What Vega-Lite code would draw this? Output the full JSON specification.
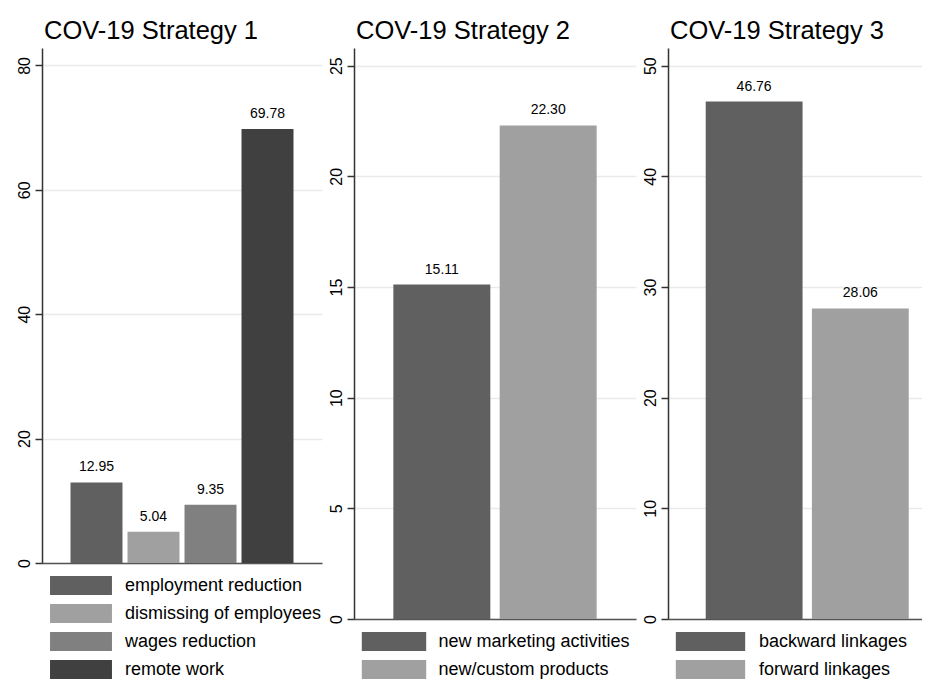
{
  "$schema": "https://vega.github.io/schema/vega-lite/v6.json",
  "padding": {"left": 16, "top": 18, "right": 0, "bottom": 0},
  "background": "white",
  "datasets": {
    "p1": [
      {"item": "employment reduction", "value": 12.95},
      {"item": "dismissing of employees", "value": 5.04},
      {"item": "wages reduction", "value": 9.35},
      {"item": "remote work", "value": 69.78}
    ],
    "p2": [
      {"item": "new marketing activities", "value": 15.11},
      {"item": "new/custom products", "value": 22.30}
    ],
    "p3": [
      {"item": "backward linkages", "value": 46.76},
      {"item": "forward linkages", "value": 28.06}
    ]
  },
  "spacing": 32,
  "bounds": "flush",
  "resolve": {"scale": {"x": "independent", "y": "independent", "color": "independent"}, "legend": {"color": "independent"}, "axis": {"x": "independent", "y": "independent"}},
  "hconcat": [
    {
      "data": {"name": "p1"},
      "width": 280,
      "height": 515,
      "title": {"text": "COV-19 Strategy 1"},
      "encoding": {
        "x": {"field": "item", "type": "nominal", "sort": null,
              "scale": {"paddingInner": 0.088, "paddingOuter": 0.5},
              "axis": {"labels": false, "ticks": false, "title": null, "domainColor": "#555555"}},
        "y": {"field": "value", "type": "quantitative",
              "scale": {"domain": [0, 82.8], "nice": false},
              "axis": {"values": [0, 20, 40, 60, 80], "title": null}}
      },
      "layer": [
        {"mark": {"type": "bar"},
         "encoding": {"color": {"field": "item", "type": "nominal", "sort": null,
           "scale": {"domain": ["employment reduction", "dismissing of employees", "wages reduction", "remote work"],
                     "range": ["#606060", "#a0a0a0", "#808080", "#404040"]},
           "legend": {"orient": "none", "legendX": 29.5, "legendY": 528, "title": null,
                      "symbolType": "M-3.26,-1H3.26V1H-3.26Z", "symbolSize": 361, "labelOffset": 34.5, "labelLimit": 200}}}},
        {"mark": {"type": "text", "dy": -11, "baseline": "alphabetic", "fontSize": 14},
         "encoding": {"text": {"field": "value", "type": "quantitative", "format": ".2f"}}}
      ]
    },
    {
      "data": {"name": "p2"},
      "width": 282,
      "height": 571,
      "title": {"text": "COV-19 Strategy 2"},
      "encoding": {
        "x": {"field": "item", "type": "nominal", "sort": null,
              "scale": {"paddingInner": 0.088, "paddingOuter": 0.37},
              "axis": {"labels": false, "ticks": false, "title": null, "domainColor": "#555555"}},
        "y": {"field": "value", "type": "quantitative",
              "scale": {"domain": [0, 25.8], "nice": false},
              "axis": {"values": [0, 5, 10, 15, 20, 25], "title": null}}
      },
      "layer": [
        {"mark": {"type": "bar"},
         "encoding": {"color": {"field": "item", "type": "nominal", "sort": null,
           "scale": {"domain": ["new marketing activities", "new/custom products"],
                     "range": ["#606060", "#a0a0a0"]},
           "legend": {"orient": "none", "legendX": 30.5, "legendY": 584, "title": null,
                      "symbolType": "M-3.39,-1H3.39V1H-3.39Z", "symbolSize": 361, "labelOffset": 35, "labelLimit": 196}}}},
        {"mark": {"type": "text", "dy": -11, "baseline": "alphabetic", "fontSize": 14},
         "encoding": {"text": {"field": "value", "type": "quantitative", "format": ".2f"}}}
      ]
    },
    {
      "data": {"name": "p3"},
      "width": 254,
      "height": 571,
      "title": {"text": "COV-19 Strategy 3"},
      "encoding": {
        "x": {"field": "item", "type": "nominal", "sort": null,
              "scale": {"paddingInner": 0.088, "paddingOuter": 0.24, "align": 0.74},
              "axis": {"labels": false, "ticks": false, "title": null, "domainColor": "#555555"}},
        "y": {"field": "value", "type": "quantitative",
              "scale": {"domain": [0, 51.6], "nice": false},
              "axis": {"values": [0, 10, 20, 30, 40, 50], "title": null}}
      },
      "layer": [
        {"mark": {"type": "bar"},
         "encoding": {"color": {"field": "item", "type": "nominal", "sort": null,
           "scale": {"domain": ["backward linkages", "forward linkages"],
                     "range": ["#606060", "#a0a0a0"]},
           "legend": {"orient": "none", "legendX": 33, "legendY": 584, "title": null,
                      "symbolType": "M-3.65,-1H3.65V1H-3.65Z", "symbolSize": 361, "labelOffset": 39, "labelLimit": 196}}}},
        {"mark": {"type": "text", "dy": -11, "baseline": "alphabetic", "fontSize": 14},
         "encoding": {"text": {"field": "value", "type": "quantitative", "format": ".2f"}}}
      ]
    }
  ],
  "config": {
    "font": "Liberation Sans",
    "view": {"stroke": null},
    "title": {"anchor": "start", "fontSize": 25.5, "fontWeight": "normal", "color": "#000000", "baseline": "alphabetic", "offset": 4, "dx": 28, "font": "Liberation Sans"},
    "axis": {"labelFont": "Liberation Sans", "labelFontSize": 16, "labelColor": "#000000", "domainColor": "#333333", "domainWidth": 1.5, "tickColor": "#333333", "tickWidth": 1.5, "gridColor": "#eaeaea", "gridWidth": 1.5},
    "axisY": {"grid": true, "tickSize": 7, "labelPadding": 3, "labelAngle": -90},
    "axisX": {"grid": false, "domainWidth": 1.5},
    "legend": {"labelFont": "Liberation Sans", "labelFontSize": 18, "labelColor": "#000000", "symbolStrokeWidth": 0, "symbolOpacity": 1, "rowPadding": 9},
    "text": {"font": "Liberation Sans", "color": "#000000"}
  }
}
